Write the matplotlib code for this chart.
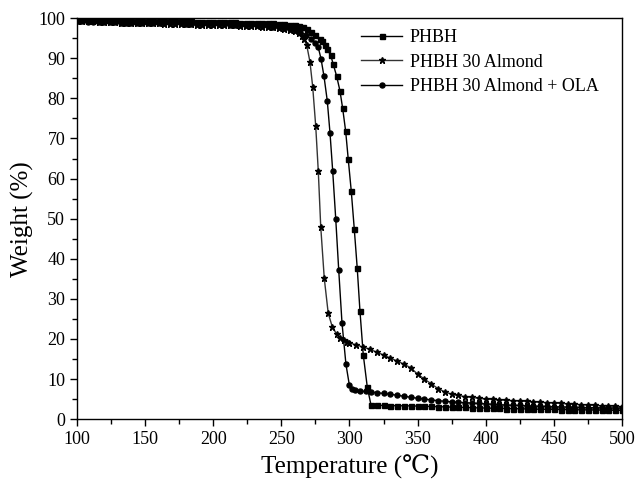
import matplotlib
matplotlib.use("Agg")
import matplotlib.pyplot as plt
from matplotlib.ticker import MultipleLocator

plt.rcParams['font.family'] = ['Liberation Serif', 'DejaVu Serif']

# ---------------- data ----------------
flat_T = [100, 104, 108, 112, 116, 120, 124, 128, 132, 136, 140, 144, 148, 152, 156,
          160, 164, 168, 172, 176, 180, 184, 188, 192, 196, 200, 204, 208, 212, 216,
          220, 224, 228, 232, 236, 240, 244, 248, 252, 256, 260]

phbh_T = flat_T + [263, 266, 269, 272, 275, 278, 280, 282, 283.7, 286.2, 288.1, 290.6,
                   293.0, 295.0, 297.2, 299.1, 301.3, 303.5, 305.7, 307.7, 310.1, 313.1,
                   315.8, 320, 325, 330, 335, 340, 345, 350, 355, 360, 365, 370, 375, 380,
                   385, 390, 395, 400, 405, 410, 415, 420, 425, 430, 435, 440, 445, 450,
                   455, 460, 465, 470, 475, 480, 485, 490, 495, 500]
phbh_W = [99.7, 99.7, 99.6, 99.6, 99.6, 99.5, 99.5, 99.5, 99.5, 99.4, 99.4, 99.4, 99.4,
          99.3, 99.3, 99.3, 99.3, 99.3, 99.2, 99.2, 99.2, 99.2, 99.1, 99.1, 99.1, 99.1,
          99.0, 99.0, 99.0, 99.0, 98.9, 98.9, 98.9, 98.8, 98.8, 98.7, 98.7, 98.6, 98.5,
          98.4, 98.3,
          98.1, 97.8, 97.3, 96.6, 95.8, 94.9, 94.2, 93.3, 92.2, 90.8, 88.5, 85.5,
          81.9, 77.5, 71.8, 64.8, 56.9, 47.5, 37.6, 26.9, 16.1, 7.9,
          3.5, 3.45, 3.4, 3.37, 3.35, 3.32, 3.3, 3.25, 3.2, 3.15, 3.1, 3.05, 3.0,
          2.95, 2.9, 2.85, 2.8, 2.76, 2.72, 2.68, 2.65, 2.61, 2.58, 2.54, 2.5, 2.47, 2.45,
          2.42, 2.4, 2.37, 2.35, 2.32, 2.3, 2.27, 2.25, 2.23, 2.21, 2.2]

alm_T = flat_T + [263, 264.8, 266.5, 268.6, 271.0, 273.0, 275.2, 277.1, 278.9, 281.5,
                  284.4, 287.4, 290.6, 293.3, 295.8, 298, 300, 305, 310, 315, 320, 325,
                  330, 335, 340, 345, 350, 355, 360, 365, 370, 375, 380, 385, 390, 395,
                  400, 405, 410, 415, 420, 425, 430, 435, 440, 445, 450, 455, 460, 465,
                  470, 475, 480, 485, 490, 495, 500]
alm_W = [99.3, 99.3, 99.2, 99.2, 99.1, 99.1, 99.0, 99.0, 98.9, 98.9, 98.9, 98.8, 98.8,
         98.7, 98.7, 98.7, 98.6, 98.6, 98.6, 98.5, 98.5, 98.5, 98.4, 98.4, 98.4, 98.3,
         98.3, 98.3, 98.2, 98.2, 98.1, 98.1, 98.0, 98.0, 97.9, 97.8, 97.7, 97.6, 97.4,
         97.1, 96.7,
         96.2, 95.6, 94.8, 93.3, 89.1, 82.9, 73.2, 61.9, 48.0, 35.1,
         26.4, 23.0, 21.2, 20.3, 19.7, 19.3, 19.0, 18.5, 18.0, 17.4, 16.7, 16.0,
         15.2, 14.5, 13.7, 12.8, 11.2, 10.0, 8.8, 7.6, 6.8, 6.2, 5.9, 5.6, 5.4, 5.2,
         5.0, 4.9, 4.8, 4.7, 4.6, 4.5, 4.4, 4.3, 4.2, 4.1, 4.0, 3.9, 3.8, 3.7,
         3.6, 3.5, 3.4, 3.3, 3.25, 3.2, 3.1]

ola_T = flat_T + [264, 268, 272, 275, 277.1, 279.1, 281.3, 283.7, 285.7, 287.7, 289.9,
                  292.1, 294.5, 297.4, 299.9, 302, 304, 308, 312, 316, 320, 325, 330,
                  335, 340, 345, 350, 355, 360, 365, 370, 375, 380, 385, 390, 395, 400,
                  405, 410, 415, 420, 425, 430, 435, 440, 445, 450, 455, 460, 465, 470,
                  475, 480, 485, 490, 495, 500]
ola_W = [99.2, 99.2, 99.1, 99.1, 99.1, 99.0, 99.0, 99.0, 98.9, 98.9, 98.9, 98.9, 98.8,
         98.8, 98.8, 98.8, 98.7, 98.7, 98.7, 98.7, 98.6, 98.6, 98.6, 98.6, 98.5, 98.5,
         98.5, 98.5, 98.4, 98.4, 98.3, 98.3, 98.2, 98.2, 98.1, 98.0, 97.9, 97.8, 97.6,
         97.4, 97.1,
         96.6, 95.8, 94.8, 93.8, 92.7, 89.9, 85.5, 79.4, 71.4, 61.8, 50.0,
         37.2, 24.0, 13.7, 8.5, 7.5, 7.2, 7.0, 6.9, 6.75, 6.6, 6.4, 6.2,
         5.95, 5.7, 5.45, 5.2, 5.0, 4.8, 4.6, 4.45, 4.3, 4.2, 4.1, 4.0, 3.9, 3.8,
         3.7, 3.6, 3.5, 3.45, 3.4, 3.3, 3.25, 3.2, 3.15, 3.1, 3.05, 3.0, 2.95, 2.9,
         2.88, 2.85, 2.82, 2.8, 2.78, 2.75]

labels = ["PHBH", "PHBH 30 Almond", "PHBH 30 Almond + OLA"]

# ---------------- plot ----------------
fig = plt.figure(figsize=(6.36, 4.79), dpi=100)
ax = fig.add_axes([0.121, 0.125, 0.857, 0.837])

ax.plot(phbh_T, phbh_W, color='black', lw=1.0, marker='s', ms=3.6,
        mfc='black', mec='black', label=labels[0])
ax.plot(alm_T, alm_W, color='#333333', lw=1.0, marker='*', ms=4.8,
        mfc='black', mec='black', label=labels[1])
ax.plot(ola_T, ola_W, color='black', lw=1.0, marker='o', ms=3.6,
        mfc='black', mec='black', label=labels[2])

ax.set_xlim(100, 500)
ax.set_ylim(0, 100)
ax.xaxis.set_major_locator(MultipleLocator(50))
ax.xaxis.set_minor_locator(MultipleLocator(25))
ax.yaxis.set_major_locator(MultipleLocator(10))
ax.yaxis.set_minor_locator(MultipleLocator(5))
ax.tick_params(which='major', direction='out', length=5, width=1, labelsize=13,
               top=False, right=False)
ax.tick_params(which='minor', direction='out', length=3.5, width=1,
               top=False, right=False)
for s in ax.spines.values():
    s.set_linewidth(1.0)

ax.set_xlabel("Temperature (\u2103)", fontsize=18, labelpad=5)
ax.set_ylabel("Weight (%)", fontsize=18, labelpad=3)

leg = ax.legend(loc='upper right', frameon=False, fontsize=13, handlelength=2.3,
                handletextpad=0.4, labelspacing=0.4, borderaxespad=0.0,
                bbox_to_anchor=(0.97, 0.99))

fig.savefig("out.png", dpi=100)
